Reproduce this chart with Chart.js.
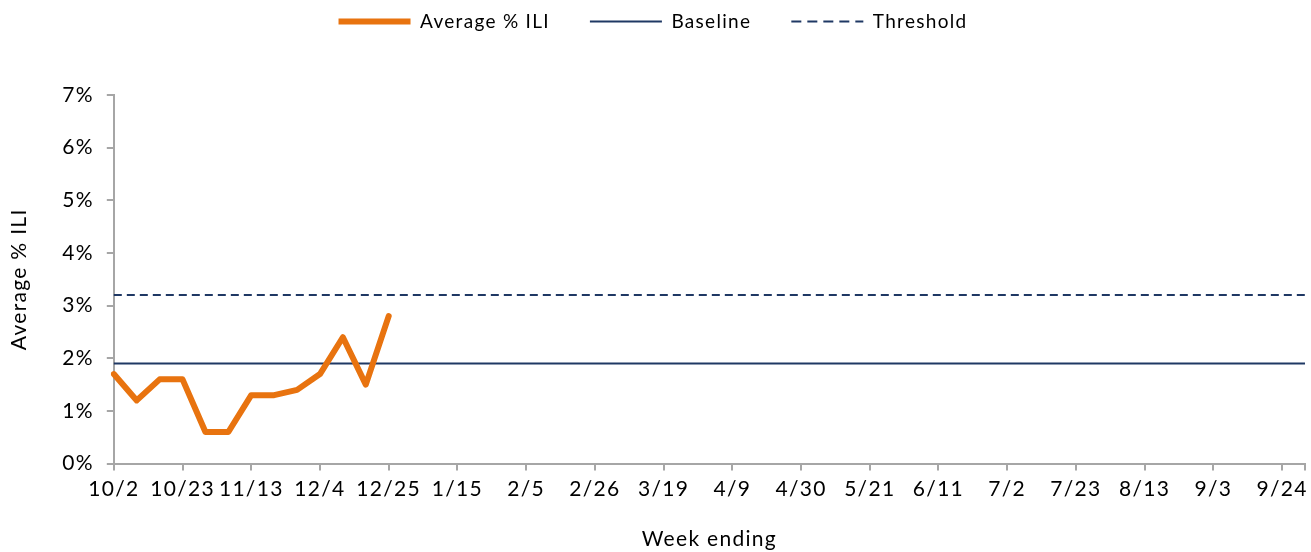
<!DOCTYPE html>
<html>
<head>
<meta charset="utf-8">
<script src="https://cdn.jsdelivr.net/npm/chart.js@4.4.1/dist/chart.umd.min.js"></script>
<style>
  html, body { margin: 0; padding: 0; background: #fff; }
  #marco { width: 1311px; height: 552px; }
</style>
</head>
<body>
<div id="marco"><canvas id="grafica"></canvas></div>
<script>
// Semanas (sábado de cierre) de la temporada
const semanas = [
    '10/2', '10/9', '10/16', '10/23', '10/30', '11/6', '11/13', '11/20', '11/27',
    '12/4', '12/11', '12/18', '12/25', '1/1', '1/8', '1/15', '1/22', '1/29',
    '2/5', '2/12', '2/19', '2/26', '3/5', '3/12', '3/19', '3/26', '4/2',
    '4/9', '4/16', '4/23', '4/30', '5/7', '5/14', '5/21', '5/28', '6/4',
    '6/11', '6/18', '6/25', '7/2', '7/9', '7/16', '7/23', '7/30', '8/6',
    '8/13', '8/20', '8/27', '9/3', '9/10', '9/17', '9/24', '10/1'
];

// Promedio % ILI reportado hasta ahora
const promedioILI = [1.7, 1.2, 1.6, 1.6, 0.6, 0.6, 1.3, 1.3, 1.4, 1.7, 2.4, 1.5, 2.8];

const lineaBase = 1.9;
const umbral = 3.2;

const naranja = '#E8730F';
const azul = '#1F3864';
const gris = '#A6A6A6';
const fuente = 'Lato, "Open Sans", sans-serif';
const espacioLetras = '1.3px';
const ultima = semanas.length - 1;

// Línea horizontal de extremo a extremo
function lineaHorizontal(valor) {
    return [
        { x: semanas[0], y: valor },
        { x: semanas[ultima], y: valor }
    ];
}

// Ajustes: espacio entre letras y alto fijo de la leyenda
const ajustes = {
    id: 'ajustes',
    beforeInit(chart) {
        const fitOriginal = chart.legend.fit;
        chart.legend.fit = function () {
            fitOriginal.bind(chart.legend)();
            this.height = 123;
        };
    },
    beforeUpdate(chart) { chart.ctx.letterSpacing = espacioLetras; },
    beforeDraw(chart) { chart.ctx.letterSpacing = espacioLetras; }
};

const ctx = document.getElementById('grafica').getContext('2d');

window.miGrafica = new Chart(ctx, {
    type: 'line',
    data: {
        labels: semanas,
        datasets: [
            {
                label: 'Average % ILI',
                data: promedioILI,
                borderColor: naranja,
                backgroundColor: naranja,
                borderWidth: 6,
                pointRadius: 0,
                tension: 0,
                borderJoinStyle: 'round',
                borderCapStyle: 'round',
                order: 0
            },
            {
                label: 'Baseline',
                data: lineaHorizontal(lineaBase),
                borderColor: azul,
                backgroundColor: azul,
                borderWidth: 2,
                pointRadius: 0,
                order: 1
            },
            {
                label: 'Threshold',
                data: lineaHorizontal(umbral),
                borderColor: azul,
                backgroundColor: azul,
                borderWidth: 2,
                borderDash: [8, 5],
                pointRadius: 0,
                order: 2
            }
        ]
    },
    options: {
        responsive: true,
        maintainAspectRatio: false,
        animation: false,
        layout: {
            padding: { top: -28, right: 5, left: 0, bottom: 0 }
        },
        plugins: {
            tooltip: { enabled: false },
            legend: {
                position: 'top',
                labels: {
                    usePointStyle: true,
                    pointStyle: 'line',
                    pointStyleWidth: 72,
                    color: '#000',
                    font: { family: fuente, size: 19 },
                    padding: 40,
                    boxHeight: 20,
                    generateLabels: chart => Chart.defaults.plugins.legend.labels.generateLabels(chart).map(item => {
                        const ds = chart.data.datasets[item.datasetIndex];
                        item.lineDash = ds.borderDash ? [10, 6] : [];
                        item.lineWidth = ds.borderWidth;
                        item.strokeStyle = ds.borderColor;
                        item.lineCap = 'butt';
                        return item;
                    })
                }
            }
        },
        scales: {
            x: {
                type: 'category',
                offset: false,
                border: { color: gris, width: 2 },
                grid: {
                    drawOnChartArea: false,
                    drawTicks: true,
                    tickLength: 7,
                    color: c => c.index === ultima ? 'rgba(0,0,0,0)' : gris,
                    lineWidth: 2
                },
                ticks: {
                    autoSkip: false,
                    maxRotation: 0,
                    color: '#000',
                    font: { family: fuente, size: 21 },
                    padding: 6,
                    callback: function (valor, i) {
                        if (i === ultima) return '';
                        return i % 3 === 0 ? semanas[i] : null;
                    }
                },
                title: {
                    display: true,
                    text: 'Week ending',
                    color: '#000',
                    font: { family: fuente, size: 21 },
                    padding: { top: 19, bottom: 0 }
                }
            },
            y: {
                min: 0,
                max: 7,
                border: { color: gris, width: 2 },
                grid: {
                    drawOnChartArea: false,
                    drawTicks: true,
                    tickLength: 7,
                    color: gris,
                    lineWidth: 2
                },
                ticks: {
                    stepSize: 1,
                    color: '#000',
                    font: { family: fuente, size: 21 },
                    padding: 13,
                    callback: valor => valor + '%'
                },
                title: {
                    display: true,
                    text: 'Average % ILI',
                    color: '#000',
                    font: { family: fuente, size: 21 },
                    padding: { top: 7, bottom: 17 }
                }
            }
        }
    },
    plugins: [ajustes]
});
</script>
</body>
</html>
